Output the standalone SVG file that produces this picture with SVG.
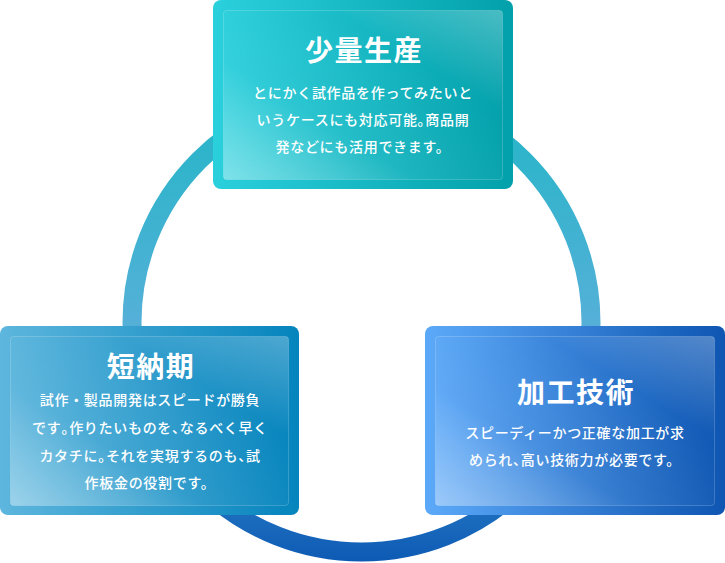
<svg xmlns="http://www.w3.org/2000/svg" width="725" height="563" viewBox="0 0 725 563">
<defs>
<linearGradient id="ring" x1="0" y1="83" x2="0" y2="562" gradientUnits="userSpaceOnUse">
<stop offset="0" stop-color="#1fb6c6"/>
<stop offset="0.5" stop-color="#55b0d8"/>
<stop offset="0.8" stop-color="#2c80c8"/>
<stop offset="1" stop-color="#0d5ab4"/>
</linearGradient>
<linearGradient id="gTop" x1="0" y1="0" x2="1" y2="0">
<stop offset="0" stop-color="#2bd0dd"/>
<stop offset="1" stop-color="#02a0aa"/>
</linearGradient>
<linearGradient id="gLeft" x1="0" y1="0" x2="1" y2="0">
<stop offset="0" stop-color="#5db6dd"/>
<stop offset="1" stop-color="#0584bd"/>
</linearGradient>
<linearGradient id="gRight" x1="0" y1="0" x2="1" y2="0">
<stop offset="0" stop-color="#5ca9f9"/>
<stop offset="1" stop-color="#0e56b2"/>
</linearGradient>
<linearGradient id="gloss" x1="0" y1="1" x2="1" y2="0">
<stop offset="0" stop-color="#fff" stop-opacity="0.4"/>
<stop offset="0.35" stop-color="#fff" stop-opacity="0.05"/>
<stop offset="0.7" stop-color="#fff" stop-opacity="0"/>
<stop offset="1" stop-color="#fff" stop-opacity="0.28"/>
</linearGradient>
<style>
.box{stroke:none}
.inner{fill:url(#gloss);stroke:#fff;stroke-opacity:0.18;stroke-width:1}
.title{font-family:"Noto Sans CJK JP","Noto Sans",sans-serif;font-size:28px;font-weight:bold;fill:#fff;text-anchor:middle;letter-spacing:1.5px}
.body{font-family:"Noto Sans CJK JP","Noto Sans",sans-serif;font-size:14px;font-weight:500;fill:#fff;text-anchor:middle;letter-spacing:0.7px}
.p{letter-spacing:-6.3px}
</style>
</defs>
<g id="connectors">
<circle cx="361.5" cy="322.5" r="229.5" fill="none" stroke="url(#ring)" stroke-width="19"/>
</g>
<g id="node-top">
<rect class="box" x="213" y="0" width="300" height="189" rx="8" fill="url(#gTop)"/>
<rect class="inner" x="223.5" y="10.5" width="279" height="169" rx="3"/>
<text class="title" x="364" y="61">少量生産</text>
<text class="body" x="363" y="98">とにかく試作品を作ってみたいと</text>
<text class="body" x="363" y="125">いうケースにも対応可能<tspan class="p">。</tspan>商品開</text>
<text class="body" x="363" y="152">発などにも活用できます。</text>
</g>
<g id="node-left">
<rect class="box" x="0" y="326" width="299" height="189" rx="8" fill="url(#gLeft)"/>
<rect class="inner" x="10.5" y="336.5" width="278" height="169" rx="3"/>
<text class="title" x="151" y="377">短納期</text>
<text class="body" x="150" y="405">試作・製品開発はスピードが勝負</text>
<text class="body" x="150" y="433">です<tspan class="p">。</tspan>作りたいものを<tspan class="p">、</tspan>なるべく早く</text>
<text class="body" x="150" y="461">カタチに<tspan class="p">。</tspan>それを実現するのも<tspan class="p">、</tspan>試</text>
<text class="body" x="150" y="488">作板金の役割です。</text>
</g>
<g id="node-right">
<rect class="box" x="425" y="326" width="300" height="189" rx="8" fill="url(#gRight)"/>
<rect class="inner" x="435.5" y="336.5" width="279" height="169" rx="3"/>
<text class="title" x="576" y="403">加工技術</text>
<text class="body" x="575" y="438">スピーディーかつ正確な加工が求</text>
<text class="body" x="575" y="465">められ<tspan class="p">、</tspan>高い技術力が必要です。</text>
</g>
</svg>
